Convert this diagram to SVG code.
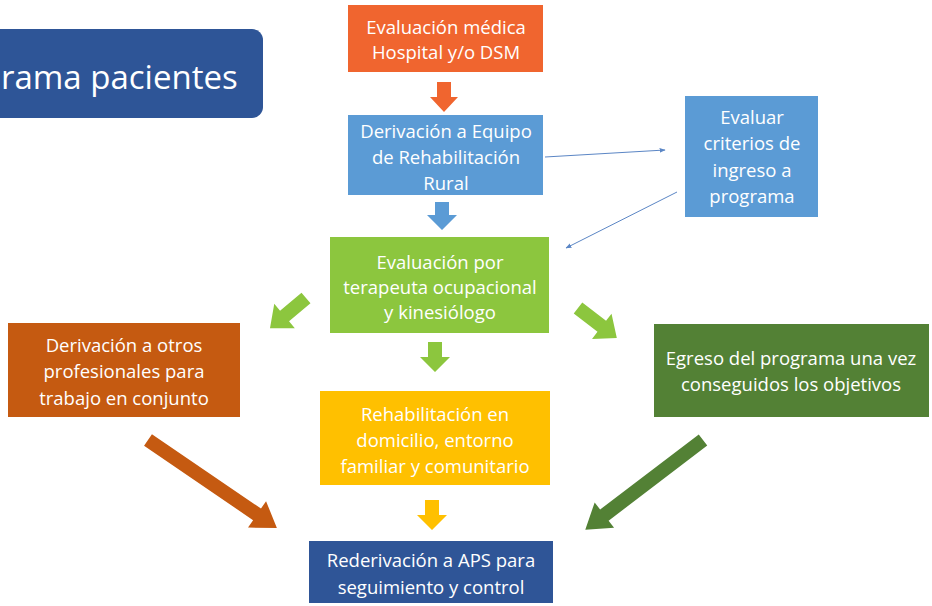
<svg xmlns="http://www.w3.org/2000/svg" width="932" height="606" viewBox="0 0 932 606">
<defs>
<style>
.t{font-family:"Open Sans","Liberation Sans",sans-serif;font-size:18.5px;fill:#ffffff;text-anchor:middle}
.title{font-family:"Open Sans","Liberation Sans",sans-serif;font-size:33px;fill:#ffffff}
.thin{stroke:#5B86C5;stroke-width:1;fill:none}
</style>
<marker id="ah" viewBox="0 0 10 10" refX="9" refY="5" markerWidth="6" markerHeight="6" orient="auto" markerUnits="userSpaceOnUse">
<path d="M0,1 L10,5 L0,9 z" fill="#5B86C5"/>
</marker>
</defs>
<rect width="932" height="606" fill="#ffffff"/>

<g id="title">
<rect x="-20" y="29" width="283" height="89" rx="11" fill="#2E5597"/>
<text class="title" x="1" y="89">rama pacientes</text>
</g>

<g id="connectors">
<path class="thin" d="M545,157 L665,150" marker-end="url(#ah)"/>
<path class="thin" d="M677,192 L566,248" marker-end="url(#ah)"/>
<path d="M437,82 H451 V97 H458 L444,112 L430,97 H437 Z" fill="#F0652F"/>
<path d="M435,202 H449 V215 H457 L442,230 L427,215 H435 Z" fill="#5B9BD5"/>
<path d="M428,342 H442 V357 H450 L435,372 L420,357 H428 Z" fill="#8CC63E"/>
<path d="M425,500 H439 V515 H447 L432,530 L417,515 H425 Z" fill="#FFC000"/>
<path d="M0,-7 H28 V-16 L47,0 L28,16 V7 H0 Z" fill="#8CC63E" transform="translate(306,298) rotate(140)"/>
<path d="M0,-7 H30 V-16 L49,0 L30,16 V7 H0 Z" fill="#8CC63E" transform="translate(578,308) rotate(37.6)"/>
<path d="M0,-7 H132 V-16 L156,0 L132,16 V7 H0 Z" fill="#C55A11" transform="translate(148,440) rotate(34.3)"/>
<path d="M0,-7 H124 V-16 L148,0 L124,16 V7 H0 Z" fill="#538135" transform="translate(703,440) rotate(142.7)"/>
</g>

<g id="n1">
<rect x="348" y="5" width="195" height="67" fill="#F0652F"/>
<text class="t" x="446" y="34">Evaluación médica</text>
<text class="t" x="446" y="59">Hospital y/o DSM</text>
</g>

<g id="n2">
<rect x="348" y="115" width="195" height="80" fill="#5B9BD5"/>
<text class="t" x="446" y="138">Derivación a Equipo</text>
<text class="t" x="446" y="164">de Rehabilitación</text>
<text class="t" x="446" y="190">Rural</text>
</g>

<g id="n3">
<rect x="685" y="96" width="133" height="121" fill="#5B9BD5"/>
<text class="t" x="752" y="124">Evaluar</text>
<text class="t" x="752" y="150">criterios de</text>
<text class="t" x="752" y="177">ingreso a</text>
<text class="t" x="752" y="203">programa</text>
</g>

<g id="n4">
<rect x="330" y="237" width="219" height="96" fill="#8CC63E"/>
<text class="t" x="440" y="269">Evaluación por</text>
<text class="t" x="440" y="294">terapeuta ocupacional</text>
<text class="t" x="440" y="319">y kinesiólogo</text>
</g>

<g id="n5">
<rect x="8" y="323" width="232" height="94" fill="#C55A11"/>
<text class="t" x="124" y="352">Derivación a otros</text>
<text class="t" x="124" y="378">profesionales para</text>
<text class="t" x="124" y="405">trabajo en conjunto</text>
</g>

<g id="n6">
<rect x="654" y="324" width="275" height="93" fill="#538135"/>
<text class="t" x="791" y="365">Egreso del programa una vez</text>
<text class="t" x="791" y="391">conseguidos los objetivos</text>
</g>

<g id="n7">
<rect x="320" y="391" width="230" height="94" fill="#FFC000"/>
<text class="t" x="435" y="421">Rehabilitación en</text>
<text class="t" x="435" y="447">domicilio, entorno</text>
<text class="t" x="435" y="473">familiar y comunitario</text>
</g>

<g id="n8">
<rect x="309" y="541" width="244" height="62" fill="#2F5597"/>
<text class="t" x="431" y="567">Rederivación a APS para</text>
<text class="t" x="431" y="594">seguimiento y control</text>
</g>
</svg>
